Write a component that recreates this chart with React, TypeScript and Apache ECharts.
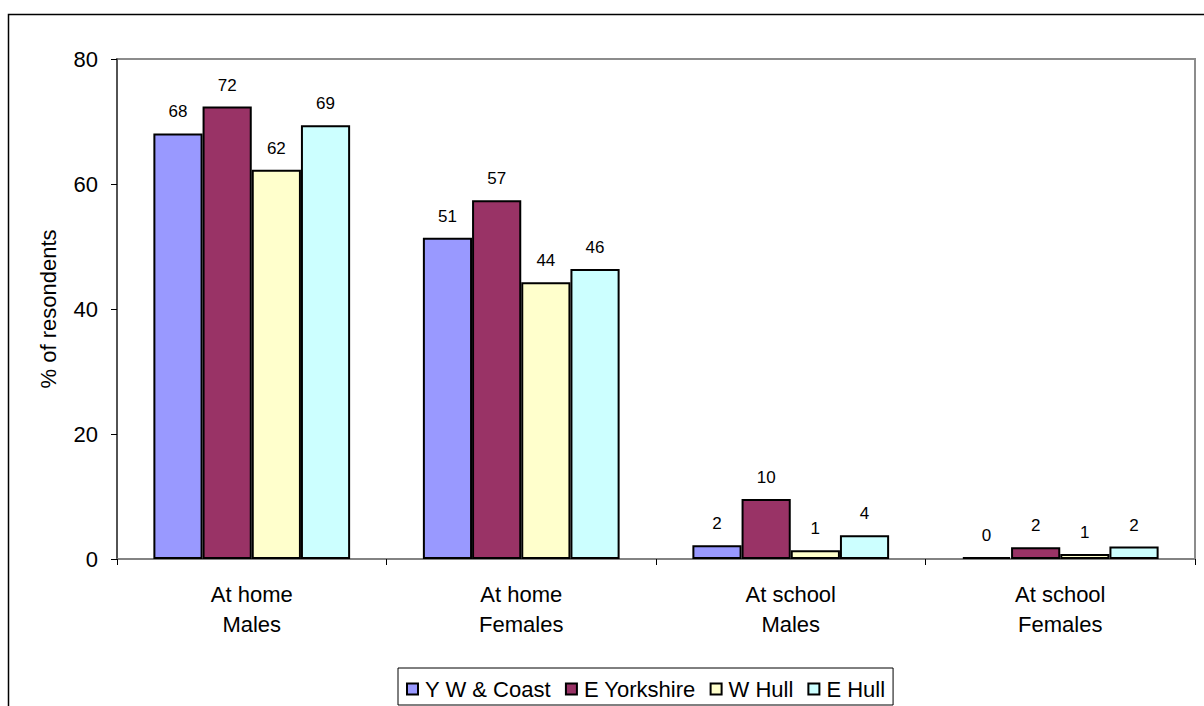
import React, { useEffect, useRef } from "react";
import * as echarts from "echarts";

const categories = ["At home\nMales", "At home\nFemales", "At school\nMales", "At school\nFemales"];
const seriesNames = ["Y W & Coast", "E Yorkshire", "W Hull", "E Hull"];
const ywCoast = [68.1, 51.4, 2.2, 0.3];
const eYorkshire = [72.4, 57.4, 9.6, 1.9];
const wHull = [62.3, 44.3, 1.4, 0.8];
const eHull = [69.4, 46.4, 3.8, 2.0];
const yTicks = [0, 20, 40, 60, 80];
const colors = ["#9999FF", "#993366", "#FFFFCC", "#CCFFFF"];

const FONT = "'Liberation Sans', Arial, sans-serif";

export default function App() {
  const ref = useRef<HTMLDivElement>(null);
  useEffect(() => {
    document.body.style.margin = "0";
    const chart = echarts.init(ref.current!, null, { renderer: "svg" });
    const values = [ywCoast, eYorkshire, wHull, eHull];
    chart.setOption({
      animation: false,
      textStyle: { fontFamily: FONT, color: "#000" },
      graphic: [
        {
          type: "rect",
          shape: { x: 8.5, y: 14.5, width: 1220, height: 720 },
          style: { fill: "none", stroke: "#000", lineWidth: 1.5 },
          silent: true,
          z: -10,
        },
      ],
      grid: {
        left: 117,
        top: 59,
        width: 1078,
        height: 500,
        show: true,
        borderColor: "#8c8c8c",
        borderWidth: 2,
        backgroundColor: "#fff",
      },
      legend: {
        left: 398,
        top: 668,
        orient: "horizontal",
        itemWidth: 11,
        itemHeight: 11,
        itemGap: 14,
        padding: [10, 8, 5, 8],
        borderColor: "#000",
        borderWidth: 1,
        icon: "rect",
        textStyle: { fontSize: 22, fontFamily: FONT, color: "#000", padding: [0, 0, 0, 2] },
        data: seriesNames.map((n, i) => ({
          name: n,
          itemStyle: { color: colors[i], borderColor: "#000", borderWidth: 2 },
        })),
      },
      xAxis: {
        type: "category",
        data: categories,
        axisLine: { show: true, lineStyle: { color: "#808080", width: 1.5 } },
        axisTick: { show: true, length: 6, alignWithLabel: false, lineStyle: { color: "#000" } },
        axisLabel: { fontSize: 22, lineHeight: 30, margin: 20, color: "#000", fontFamily: FONT },
        splitLine: { show: false },
      },
      yAxis: {
        type: "value",
        min: yTicks[0],
        max: yTicks[yTicks.length - 1],
        interval: 20,
        name: "% of resondents",
        nameLocation: "middle",
        nameGap: 58,
        nameRotate: 90,
        nameTextStyle: { fontSize: 22, color: "#000", fontFamily: FONT },
        axisLine: { show: true, lineStyle: { color: "#404040", width: 1.5 } },
        axisTick: { show: true, length: 6, lineStyle: { color: "#000" } },
        axisLabel: { fontSize: 22, margin: 19, color: "#000", fontFamily: FONT },
        splitLine: { show: false },
      },
      series: seriesNames.map((n, i) => ({
        name: n,
        type: "bar",
        data: values[i],
        barGap: "0%",
        barCategoryGap: "27%",
        itemStyle: { color: colors[i], borderColor: "#000", borderWidth: 2 },
        label: {
          show: true,
          position: "top",
          distance: 13,
          fontSize: 17,
          color: "#000",
          fontFamily: FONT,
          formatter: (p: any) => String(Math.round(p.value)),
        },
      })),
    });
    return () => chart.dispose();
  }, []);
  return <div ref={ref} style={{ width: 1204, height: 706 }} />;
}
